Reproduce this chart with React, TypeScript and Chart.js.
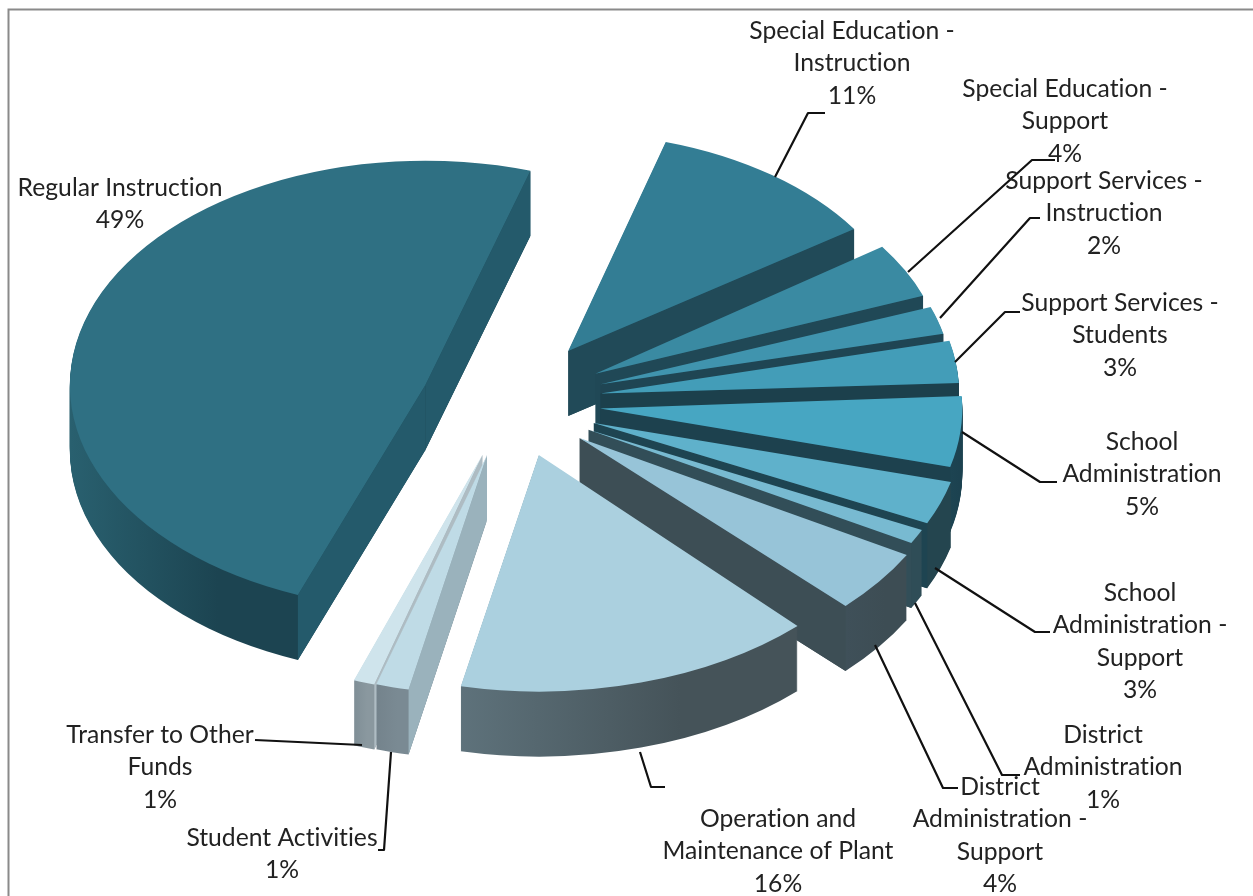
import React, { useEffect, useRef } from "react";
import { Chart, registerables } from "chart.js";

Chart.register(...registerables);

// ---- data ----
const categories = [
  "Regular Instruction", "Special Education - Instruction", "Special Education - Support",
  "Support Services - Instruction", "Support Services - Students", "School Administration",
  "School Administration - Support", "District Administration", "District Administration - Support",
  "Operation and Maintenance of Plant", "Student Activities", "Transfer to Other Funds",
];
const values = [49, 11, 4, 2, 3, 5, 3, 1, 4.3, 15.5, 1.4, 0.9];
const labelLines = [
  ["Regular Instruction"], ["Special Education -", "Instruction"], ["Special Education -", "Support"],
  ["Support Services -", "Instruction"], ["Support Services -", "Students"], ["School", "Administration"],
  ["School", "Administration -", "Support"], ["District", "Administration"], ["District", "Administration -", "Support"],
  ["Operation and", "Maintenance of Plant"], ["Student Activities"], ["Transfer to Other", "Funds"],
];

// ---- styles ----
const topColors = ["#2f7083", "#337d94", "#3a8aa2", "#4094ae", "#439db8", "#47a6c2", "#5fb1cb", "#78bad1", "#97c4d8", "#abd0df", "#bfdbe6", "#cfe4ec"];
const rimLight = ["#29606f", "#214a58", "#214a58", "#1f4856", "#1e4654", "#1d4452", "#24454f", "#2f4d57", "#3f5059", "#5e727b", "#74838c", "#7f8e96"];
const rimDark = ["#1c4451", "#214a58", "#214a58", "#1f4856", "#1e4654", "#1c4250", "#24454f", "#2f4d57", "#3d4d54", "#455359", "#7a8a93", "#8a989f"];
const faceColors = ["#245a6b", "#214a58", "#204856", "#1f4553", "#1c404c", "#1d414e", "#1e4451", "#324e58", "#3d4e55", "#455359", "#9ab2bc", "#aebcc3"];

// ---- 3D layout ----
const paintOrder = [0, 1, 2, 3, 4, 5, 6, 7, 8, 11, 10, 9];
const tilt = 0.632;
const depth = 65;
const explosion = 95;
const sliceScale = [1.03, 1, 1.015, 1.02, 1.04, 1.05, 1.07, 1.07, 1.09, 1.085, 1.1, 1.1];
const sliceTurn = [0, -0.8, -1.8, -1.5, -1.8, -2.3, -2.5, -2.5, -2, -0.7, -0.8, -1.2];
const nudgeX = [9, 5, 4, 3, 0, 0, 0, 0, 0, 8, 6, 8];
const nudgeY = [5, -1, 0, 0, 0, 0, 0, 0, 0, -3, -3, -2];

const labelX = [120, 852, 1065, 1104, 1120, 1142, 1140, 1103, 1000, 778, 282, 160];
const labelY = [188, 31, 89, 181, 303, 442, 593, 735, 787, 819, 838, 735];
const lineStep = 32.3;
const leaderLines: number[][][] = [
  [],
  [[775, 177], [808, 113], [825, 113]],
  [[908, 272], [1032, 160], [1055, 160]],
  [[940, 318], [1030, 218], [1040, 218]],
  [[955, 362], [1005, 312], [1020, 312]],
  [[962, 432], [1040, 482], [1057, 482]],
  [[935, 568], [1035, 632], [1050, 632]],
  [[915, 603], [1002, 775], [1020, 775]],
  [[875, 645], [943, 788], [958, 788]],
  [[640, 752], [651, 787], [665, 787]],
  [[391, 752], [384, 850], [378, 850]],
  [[362, 745], [255, 740]],
];

const pie3d = {
  id: "pie3d",
  beforeDatasetsDraw(chart: any) {
    const ctx: CanvasRenderingContext2D = chart.ctx;
    const arcs = chart.getDatasetMeta(0).data;
    for (const i of paintOrder) {
      const arc = arcs[i];
      const { x: cx, y: cy, startAngle: a0, endAngle: a1, outerRadius: R } = arc;
      const mid = (a0 + a1) / 2;
      const s = sliceScale[i];
      const turn = (sliceTurn[i] * Math.PI) / 180;
      const ex = explosion * Math.cos(mid) + nudgeX[i];
      const ey = explosion * Math.sin(mid) * tilt + nudgeY[i];
      const tx = cx + ex;
      const ty = cy + ey;
      const place = (d: number) => {
        ctx.translate(tx, ty + d);
        ctx.scale(s, s * tilt);
        ctx.rotate(turn);
        ctx.translate(-cx, -cy);
      };
      const paint = (fill: any) => {
        const clone = Object.create(arc);
        clone.options = { ...arc.options, backgroundColor: fill, borderWidth: 0, offset: 0 };
        arc.draw.call(clone, ctx);
      };

      // rim: horizontal gradient over the lower, visible part of the arc
      let minX = Infinity;
      let maxX = -Infinity;
      for (let t = 0; t <= 40; t++) {
        const a = a0 + ((a1 - a0) * t) / 40;
        if (Math.sin(a) >= 0) {
          minX = Math.min(minX, Math.cos(a));
          maxX = Math.max(maxX, Math.cos(a));
        }
      }
      let rim: any = rimDark[i];
      if (maxX > minX) {
        rim = ctx.createLinearGradient(cx + R * minX, 0, cx + R * maxX, 0);
        rim.addColorStop(0, rimLight[i]);
        rim.addColorStop(0.65, rimDark[i]);
        rim.addColorStop(1, rimDark[i]);
      }
      for (let d = depth; d >= 1; d--) {
        ctx.save();
        place(d);
        paint(rim);
        ctx.restore();
      }

      // radial cut faces turned towards the viewer
      const face = (a: number) => {
        const px = tx + s * R * Math.cos(a + turn);
        const py = ty + s * tilt * R * Math.sin(a + turn);
        ctx.beginPath();
        ctx.moveTo(tx, ty);
        ctx.lineTo(px, py);
        ctx.lineTo(px, py + depth);
        ctx.lineTo(tx, ty + depth);
        ctx.closePath();
        ctx.fillStyle = faceColors[i];
        ctx.fill();
      };
      if (Math.cos(a0) < 0) face(a0);
      if (Math.cos(a1) > 0) face(a1);

      ctx.save();
      place(0);
      paint(topColors[i]);
      ctx.restore();
    }
    return false;
  },
  afterDraw(chart: any) {
    const ctx: CanvasRenderingContext2D = chart.ctx;
    ctx.save();
    // frame
    ctx.strokeStyle = "#8a8a8a";
    ctx.lineWidth = 2;
    ctx.beginPath();
    ctx.moveTo(8.5, 896);
    ctx.lineTo(8.5, 9.5);
    ctx.lineTo(1253, 9.5);
    ctx.stroke();
    // leaders
    ctx.strokeStyle = "#111";
    ctx.lineWidth = 2.2;
    ctx.lineJoin = "round";
    for (const line of leaderLines) {
      if (!line.length) continue;
      ctx.beginPath();
      line.forEach((p, j) => (j ? ctx.lineTo(p[0], p[1]) : ctx.moveTo(p[0], p[1])));
      ctx.stroke();
    }
    // labels
    ctx.fillStyle = "#222";
    ctx.font = "24.7px Lato";
    (ctx as any).textRendering = "optimizeSpeed";
    ctx.textAlign = "center";
    ctx.textBaseline = "middle";
    categories.forEach((_, i) => {
      const lines = [...labelLines[i], `${Math.round(values[i])}%`];
      lines.forEach((t, j) => ctx.fillText(t, labelX[i], labelY[i] + j * lineStep));
    });
    ctx.restore();
  },
};

export default function App() {
  const ref = useRef<HTMLCanvasElement>(null);
  useEffect(() => {
    document.body.style.margin = "0";
    document.body.style.background = "#fff";
    const chart = new Chart(ref.current!, {
      type: "pie",
      data: {
        labels: categories,
        datasets: [{ data: values, backgroundColor: topColors, borderWidth: 0 }],
      },
      options: {
        responsive: false,
        animation: false,
        rotation: 201,
        layout: { padding: { left: 0, right: 241, top: 55, bottom: 151 } },
        plugins: { legend: { display: false }, tooltip: { enabled: false } },
      },
      plugins: [pie3d as any],
    });
    return () => chart.destroy();
  }, []);
  return <canvas ref={ref} width={1253} height={896} style={{ display: "block" }} />;
}
